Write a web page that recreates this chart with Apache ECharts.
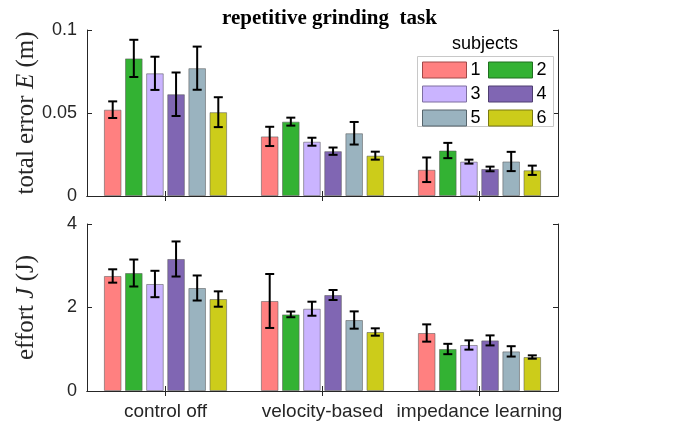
<!DOCTYPE html>
<html>
<head>
<meta charset="utf-8">
<script src="https://cdn.jsdelivr.net/npm/echarts@6/dist/echarts.min.js"></script>
<style>html,body{margin:0;padding:0;background:#fff;}#c{width:676px;height:428px;}</style>
</head>
<body>
<div id="c"></div>
<script>
const categories = ['control off', 'velocity-based', 'impedance learning'];
const subjects = ['1', '2', '3', '4', '5', '6'];
const colors = ['#FF8080', '#33B233', '#CAB4FF', '#8066B3', '#9AB3BF', '#CCCC1A'];
const legendBorders = ['#A04848', '#1F6E1F', '#7E6FA0', '#4E3E70', '#56656C', '#7A7A10'];

// total error E (m): mean and half error-bar length per subject
const errMean = [
  [0.0520, 0.0359, 0.0158],
  [0.0829, 0.0448, 0.0274],
  [0.0739, 0.0327, 0.0207],
  [0.0613, 0.0270, 0.0163],
  [0.0770, 0.0378, 0.0208],
  [0.0505, 0.0243, 0.0155]
];
const errSd = [
  [0.0050, 0.0058, 0.0074],
  [0.0112, 0.0024, 0.0046],
  [0.0100, 0.0024, 0.0012],
  [0.0131, 0.0022, 0.0014],
  [0.0130, 0.0068, 0.0058],
  [0.0090, 0.0024, 0.0028]
];
// effort J (J)
const effMean = [
  [2.755, 2.156, 1.389],
  [2.826, 1.835, 1.006],
  [2.563, 1.971, 1.102],
  [3.162, 2.299, 1.212],
  [2.467, 1.700, 0.949],
  [2.203, 1.413, 0.814]
];
const effSd = [
  [0.160, 0.646, 0.207],
  [0.323, 0.068, 0.124],
  [0.316, 0.168, 0.111],
  [0.420, 0.120, 0.120],
  [0.300, 0.207, 0.124],
  [0.184, 0.088, 0.040]
];
const errTicks = { min: 0, max: 0.1, interval: 0.05 };
const effTicks = { min: 0, max: 4, interval: 2 };

const BAR_W = 17.6;
const BAR_GAP = 0.2;
const axisColor = '#262626';
const sans = 'Liberation Sans, Arial, sans-serif';
const serif = 'Liberation Serif, Times New Roman, serif';

const chart = echarts.init(document.getElementById('c'), null, { renderer: 'canvas' });

function xAxes(gridIndex) {
  return [
    {
      type: 'category', gridIndex, data: categories, position: 'bottom',
      axisLine: { show: true, lineStyle: { color: axisColor, width: 1 } },
      axisTick: { show: true, inside: true, alignWithLabel: true, length: 5, lineStyle: { color: axisColor } },
      axisLabel: { show: gridIndex === 1, interval: 0, color: axisColor, fontFamily: sans, fontSize: 19, margin: 11 },
      splitLine: { show: false }
    },
    {
      type: 'category', gridIndex, data: categories, position: 'top',
      axisLine: { show: true, lineStyle: { color: axisColor, width: 1 } },
      axisTick: { show: true, inside: true, alignWithLabel: true, length: 5, lineStyle: { color: axisColor } },
      axisLabel: { show: false }, splitLine: { show: false }
    }
  ];
}
function yAxes(gridIndex, ticks, nameRich) {
  return [
    {
      type: 'value', gridIndex, position: 'left', min: ticks.min, max: ticks.max, interval: ticks.interval,
      axisLine: { show: true, lineStyle: { color: axisColor, width: 1 } },
      axisTick: { show: true, inside: true, length: 5, lineStyle: { color: axisColor } },
      axisLabel: { color: axisColor, fontFamily: sans, fontSize: 18, margin: 10 },
      splitLine: { show: false },
      name: nameRich, nameLocation: 'middle', nameGap: 48, nameRotate: 90, nameMoveOverlap: false,
      nameTextStyle: {
        color: axisColor, fontFamily: serif, fontSize: 25,
        rich: {
          a: { fontFamily: serif, fontSize: 25, color: axisColor },
          i: { fontFamily: serif, fontSize: 25, fontStyle: 'italic', color: axisColor }
        }
      }
    },
    {
      type: 'value', gridIndex, position: 'right', min: ticks.min, max: ticks.max, interval: ticks.interval,
      axisLine: { show: true, lineStyle: { color: axisColor, width: 1 } },
      axisTick: { show: true, inside: true, length: 5, lineStyle: { color: axisColor } },
      axisLabel: { show: false }, splitLine: { show: false }
    }
  ];
}

const series = [];
[[errMean, 0], [effMean, 1]].forEach(([means, g]) => {
  means.forEach((vals, s) => {
    series.push({
      type: 'bar', name: subjects[s], xAxisIndex: g * 2, yAxisIndex: g * 2,
      data: vals, barWidth: BAR_W, barGap: (BAR_GAP * 100) + '%',
      itemStyle: { color: colors[s], borderColor: 'rgba(90,90,90,0.55)', borderWidth: 1 },
      emphasis: { disabled: true }, z: 2
    });
  });
});

function errorSeries(means, sds, g) {
  const data = [];
  means.forEach((vals, s) => vals.forEach((m, c) => data.push([c, s, m - sds[s][c], m + sds[s][c]])));
  return {
    type: 'custom', xAxisIndex: g * 2, yAxisIndex: g * 2, z: 10, silent: true,
    encode: { x: 0, y: [2, 3] },
    renderItem: function (params, api) {
      const c = api.value(0), s = api.value(1);
      const lo = api.coord([c, api.value(2)]);
      const hi = api.coord([c, api.value(3)]);
      const off = (s - 2.5) * BAR_W * (1 + BAR_GAP);
      const x = lo[0] + off;
      const hw = 4.5;
      const st = { stroke: '#000', lineWidth: 2 };
      return {
        type: 'group', children: [
          { type: 'line', shape: { x1: x, y1: lo[1], x2: x, y2: hi[1] }, style: st },
          { type: 'line', shape: { x1: x - hw, y1: lo[1], x2: x + hw, y2: lo[1] }, style: st },
          { type: 'line', shape: { x1: x - hw, y1: hi[1], x2: x + hw, y2: hi[1] }, style: st }
        ]
      };
    },
    data
  };
}
series.push(errorSeries(errMean, errSd, 0));
series.push(errorSeries(effMean, effSd, 1));

function legendData(idx) {
  return idx.map(i => ({ name: subjects[i], itemStyle: { color: colors[i], borderColor: legendBorders[i], borderWidth: 1 } }));
}
const legendCommon = {
  orient: 'vertical', top: 61, itemWidth: 44, itemHeight: 16, itemGap: 6, padding: 0,
  selectedMode: false, icon: 'rect', z: 20,
  textStyle: { color: '#000', fontFamily: sans, fontSize: 18, padding: [0, 0, 0, -1] }
};

const option = {
  animation: false,
  backgroundColor: '#fff',
  title: {
    text: 'repetitive grinding  task', left: 217, top: 3,
    textStyle: { fontFamily: serif, fontWeight: 'bold', fontSize: 21, color: '#000' }
  },
  grid: [
    { left: 87, top: 30, width: 471, height: 166, containLabel: false },
    { left: 87, top: 224, width: 471, height: 167, containLabel: false }
  ],
  xAxis: [...xAxes(0), ...xAxes(1)],
  yAxis: [
    ...yAxes(0, errTicks, '{a|total error }{i|E}{a| (m)}'),
    ...yAxes(1, effTicks, '{a|effort }{i|J}{a| (J)}')
  ],
  legend: [
    Object.assign({}, legendCommon, { left: 422, data: legendData([0, 2, 4]) }),
    Object.assign({}, legendCommon, { left: 488, data: legendData([1, 3, 5]) })
  ],
  graphic: [
    { type: 'rect', shape: { x: 417.5, y: 56.5, width: 136, height: 70 }, style: { fill: '#fff', stroke: '#C8C8C8', lineWidth: 1 }, z: 1 },
    { type: 'text', x: 485, y: 44, style: { text: 'subjects', fontFamily: sans, fontSize: 18, fill: '#000', align: 'center', verticalAlign: 'middle' }, z: 6 }
  ],
  series
};
chart.setOption(option);
</script>
</body>
</html>
